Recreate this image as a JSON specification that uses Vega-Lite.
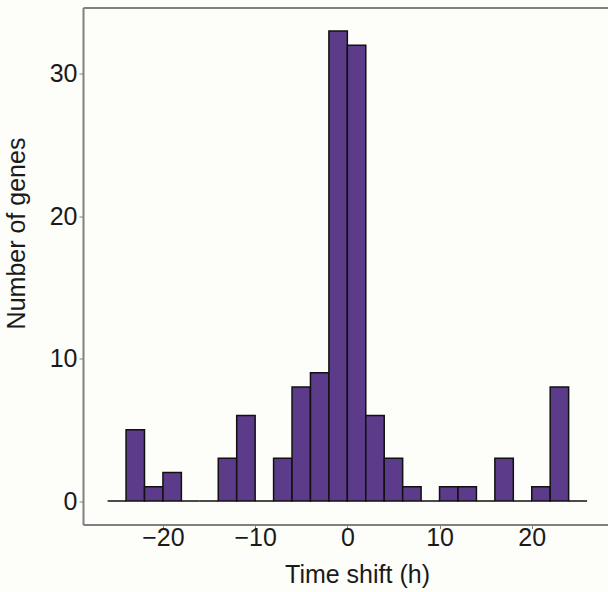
{
  "$schema": "https://vega.github.io/schema/vega-lite/v6.json",
  "width": 525,
  "height": 517,
  "autosize": {"type": "none"},
  "padding": {"left": 83, "top": 7.5, "right": 0, "bottom": 67.5},
  "background": "#fdfdfa",
  "config": {
    "view": {"stroke": null},
    "font": "Liberation Sans",
    "axis": {
      "grid": false,
      "domainColor": "#808080",
      "domainWidth": 2,
      "tickColor": "#808080",
      "tickWidth": 1,
      "tickSize": 4,
      "labelFont": "Liberation Sans",
      "labelFontSize": 25,
      "labelColor": "#1a1a1a",
      "labelPadding": 2,
      "titleFont": "Liberation Sans",
      "titleFontSize": 25,
      "titleFontWeight": "normal",
      "titleColor": "#1a1a1a"
    }
  },
  "data": {
    "values": [
      {"start": -26, "end": -24, "count": 0},
      {"start": -24, "end": -22, "count": 5},
      {"start": -22, "end": -20, "count": 1},
      {"start": -20, "end": -18, "count": 2},
      {"start": -18, "end": -16, "count": 0},
      {"start": -16, "end": -14, "count": 0},
      {"start": -14, "end": -12, "count": 3},
      {"start": -12, "end": -10, "count": 6},
      {"start": -10, "end": -8, "count": 0},
      {"start": -8, "end": -6, "count": 3},
      {"start": -6, "end": -4, "count": 8},
      {"start": -4, "end": -2, "count": 9},
      {"start": -2, "end": 0, "count": 33},
      {"start": 0, "end": 2, "count": 32},
      {"start": 2, "end": 4, "count": 6},
      {"start": 4, "end": 6, "count": 3},
      {"start": 6, "end": 8, "count": 1},
      {"start": 8, "end": 10, "count": 0},
      {"start": 10, "end": 12, "count": 1},
      {"start": 12, "end": 14, "count": 1},
      {"start": 14, "end": 16, "count": 0},
      {"start": 16, "end": 18, "count": 3},
      {"start": 18, "end": 20, "count": 0},
      {"start": 20, "end": 22, "count": 1},
      {"start": 22, "end": 24, "count": 8},
      {"start": 24, "end": 26, "count": 0}
    ]
  },
  "layer": [
    {
      "mark": {"type": "bar", "fill": "#5b3b8a", "stroke": "#111111", "strokeWidth": 1.5},
      "encoding": {
        "x": {
          "field": "start",
          "type": "quantitative",
          "scale": {"domain": [-28.67, 28.27], "nice": false, "zero": false},
          "axis": {
            "orient": "bottom",
            "values": [-20, -10, 0, 10, 20],
            "labelExpr": "replace(datum.label, '-', '−')",
            "labelPadding": -3,
            "title": "Time shift (h)",
            "titleX": 274,
            "titleY": 58,
            "titleAlign": "center",
            "titleBaseline": "alphabetic"
          }
        },
        "x2": {"field": "end"},
        "y": {
          "field": "count",
          "type": "quantitative",
          "scale": {"domain": [-1.65, 34.65], "nice": false, "zero": false},
          "axis": {
            "values": [0, 10, 20, 30],
            "title": "Number of genes",
            "titleAngle": -90,
            "titleX": -59,
            "titleY": 225.5,
            "titleAlign": "center",
            "titleBaseline": "alphabetic"
          }
        },
        "y2": {"datum": 0}
      }
    },
    {
      "mark": {"type": "rule", "opacity": 0},
      "encoding": {
        "x": {
          "field": "start",
          "type": "quantitative",
          "scale": {"domain": [-28.67, 28.27], "nice": false, "zero": false},
          "axis": {"orient": "top", "labels": false, "ticks": false, "title": null}
        }
      }
    }
  ],
  "resolve": {"axis": {"x": "independent"}}
}
